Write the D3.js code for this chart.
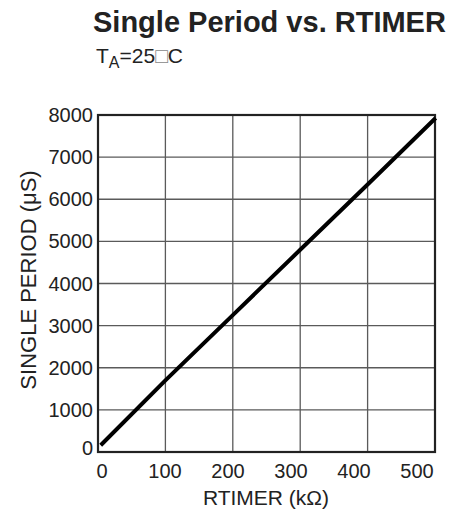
<!DOCTYPE html>
<html>
<head>
<meta charset="utf-8">
<script src="https://cdn.jsdelivr.net/npm/d3@7"></script>
<style>
  html, body { margin: 0; padding: 0; background: #fff; }
  svg { display: block; font-family: "Liberation Sans", Arial, Helvetica, sans-serif; }
</style>
</head>
<body>
<svg id="chart" width="467" height="513"></svg>
<script>
// Data
const rtimer = [4, 100, 200, 300, 400, 501];          // kΩ
const period = [160, 1700, 3250, 4800, 6350, 7930];  // µS
const xTicks = [0, 100, 200, 300, 400, 500];
const yTicks = [0, 1000, 2000, 3000, 4000, 5000, 6000, 7000, 8000];
const titleText = "Single Period vs. RTIMER";
const xTitle = "RTIMER (kΩ)";
const yTitle = "SINGLE PERIOD (μS)";

const svg = d3.select("#chart");
const L = 98, R = 435, T = 115, B = 452;

const x = d3.scaleLinear().domain([0, 500]).range([L, R]);
const y = d3.scaleLinear().domain([0, 8000]).range([B, T]);
// tick labels in the reference are laid out slightly narrower than the grid
const xLab = d3.scaleLinear().domain([0, 500]).range([102, 417]);

// grid
const g = svg.append("g");
g.selectAll("line.vx").data(xTicks.slice(1, -1)).join("line")
  .attr("x1", d => x(d)).attr("x2", d => x(d))
  .attr("y1", T).attr("y2", B)
  .attr("stroke", "#5a5a5a").attr("stroke-width", 1.3);
g.selectAll("line.hy").data(yTicks.slice(1, -1)).join("line")
  .attr("x1", L).attr("x2", R)
  .attr("y1", d => y(d)).attr("y2", d => y(d))
  .attr("stroke", "#5a5a5a").attr("stroke-width", 1.3);

// frame
svg.append("rect").attr("x", L).attr("y", T).attr("width", R - L).attr("height", B - T)
  .attr("fill", "none").attr("stroke", "#222").attr("stroke-width", 2.2);

// data line
const pts = rtimer.map((v, i) => [v, period[i]]);
svg.append("path").datum(pts)
  .attr("d", d3.line().x(d => x(d[0])).y(d => y(d[1])))
  .attr("fill", "none").attr("stroke", "#000").attr("stroke-width", 4)
  .attr("stroke-linecap", "butt");

// y tick labels
svg.selectAll("text.yt").data(yTicks).join("text")
  .attr("x", 93).attr("y", d => y(d) + (d === 0 ? 3 : 7))
  .attr("text-anchor", "end").attr("font-size", 20).attr("fill", "#222")
  .text(d => d);

// x tick labels
svg.selectAll("text.xt").data(xTicks).join("text")
  .attr("x", d => xLab(d)).attr("y", 478)
  .attr("text-anchor", "middle").attr("font-size", 20).attr("fill", "#222")
  .text(d => d);

// axis titles
svg.append("text").attr("x", 266).attr("y", 505)
  .attr("text-anchor", "middle").attr("font-size", 21).attr("fill", "#222")
  .text(xTitle);
svg.append("text")
  .attr("transform", "translate(36,280) rotate(-90)")
  .attr("text-anchor", "middle").attr("font-size", 22).attr("fill", "#222")
  .text(yTitle);

// title
svg.append("text").attr("x", 93).attr("y", 32)
  .attr("font-size", 29).attr("font-weight", "bold").attr("fill", "#222")
  .text(titleText);

// subtitle T_A=25□C
const sub = svg.append("text").attr("x", 96).attr("y", 63)
  .attr("font-size", 21).attr("fill", "#222");
sub.append("tspan").text("T");
sub.append("tspan").attr("dy", 5).attr("font-size", 16).text("A");
sub.append("tspan").attr("dy", -5).text("=25");
sub.append("tspan").attr("fill", "#888").text("□");
sub.append("tspan").text("C");
</script>
</body>
</html>
